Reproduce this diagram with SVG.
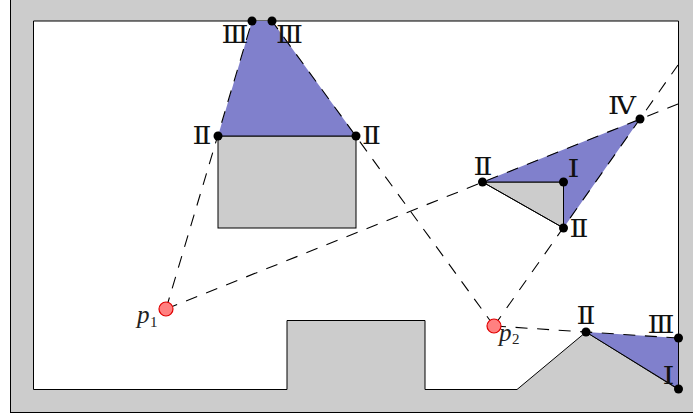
<svg xmlns="http://www.w3.org/2000/svg" width="693" height="417" viewBox="0 0 693 417">
<style>
.s{stroke:#000;stroke-width:1;fill:none}
.g{fill:#ccc;stroke:#000;stroke-width:1}
.p{fill:#8080cc;stroke:none}
.d{stroke:#000;stroke-width:1.1;fill:none;stroke-dasharray:12 9.600}
.e{stroke-dasharray:12 10}
.v{fill:#000}
.c{fill:#ff8080;stroke:#e00000;stroke-width:1.2}
.r{font-family:"DejaVu Serif",serif;font-size:25px;fill:#111;text-anchor:middle}
.l{font-family:"Liberation Serif",serif;font-style:italic;font-size:25px;fill:#222}
.b{font-family:"Liberation Serif",serif;font-size:15px;fill:#222}
</style>
<g id="outer"><rect class="g" x="10.500" y="-5" width="690" height="417.500"/>
<path d="M33.500 21H678.500V389.500L586 332 517 389.500H425V320.500H287V389.500H33.500Z" fill="#fff" stroke="#000"/></g>
<g id="room"><rect class="g" x="218" y="136" width="138" height="92"/></g>
<g id="tri"><path class="g" d="M482.500 182H563.500V228Z"/></g>
<g id="vis">
<path class="p" d="M252 21H272L356 136H218Z"/>
<path class="p" d="M482.500 182L640 119 563.500 228V182Z"/>
<path class="p" d="M586 332L678.500 338V389Z"/>
</g>
<g id="connectors">
<path class="d" d="M166 309L252 21"/>
<path class="d" d="M166 309L678 104"/>
<path class="d" d="M494 326L272 21"/>
<path class="d e" d="M494 326L678 65"/>
<path class="d" d="M494 326L678 338"/>
</g>
<g id="edges"><path class="s" d="M218 136H356"/><path class="s" d="M482.500 182H563.500V228L482.500 182"/><path class="s" d="M586 332L678.500 389V338"/></g>
<g id="verts">
<circle class="v" cx="252" cy="21" r="4.500"/><circle class="v" cx="272" cy="21" r="4.500"/>
<circle class="v" cx="218" cy="136" r="4.500"/><circle class="v" cx="356" cy="136" r="4.500"/>
<circle class="v" cx="482.500" cy="182" r="4.500"/><circle class="v" cx="563.500" cy="182" r="4.500"/>
<circle class="v" cx="563.500" cy="228" r="4.500"/><circle class="v" cx="640" cy="119" r="4.500"/>
<circle class="v" cx="586" cy="332" r="4.500"/><circle class="v" cx="678.500" cy="338" r="4.500"/><circle class="v" cx="678.500" cy="389" r="4.500"/>
</g>
<g id="p1"><circle class="c" cx="166" cy="309" r="7"/><text class="l" x="137" y="323">p</text><text class="b" x="150" y="327">1</text></g>
<g id="p2"><circle class="c" cx="494" cy="326" r="7"/><text class="l" x="499" y="341">p</text><text class="b" x="512" y="344">2</text></g>
<g id="labels">
<text class="r" x="235" y="43" textLength="27" lengthAdjust="spacingAndGlyphs">Ⅲ</text><text class="r" x="289.500" y="43" textLength="27" lengthAdjust="spacingAndGlyphs">Ⅲ</text>
<text class="r" x="202" y="144" textLength="19" lengthAdjust="spacingAndGlyphs">Ⅱ</text><text class="r" x="371.500" y="144" textLength="19" lengthAdjust="spacingAndGlyphs">Ⅱ</text>
<text class="r" x="483" y="175" textLength="19" lengthAdjust="spacingAndGlyphs">Ⅱ</text><text class="r" x="573.500" y="177" textLength="12" lengthAdjust="spacingAndGlyphs">Ⅰ</text>
<text class="r" x="579" y="237" textLength="19" lengthAdjust="spacingAndGlyphs">Ⅱ</text><text class="r" x="622" y="114" textLength="28" lengthAdjust="spacingAndGlyphs">Ⅳ</text>
<text class="r" x="586" y="324" textLength="19" lengthAdjust="spacingAndGlyphs">Ⅱ</text><text class="r" x="661" y="333" textLength="27" lengthAdjust="spacingAndGlyphs">Ⅲ</text><text class="r" x="668.500" y="384" textLength="12" lengthAdjust="spacingAndGlyphs">Ⅰ</text>
</g>
</svg>
